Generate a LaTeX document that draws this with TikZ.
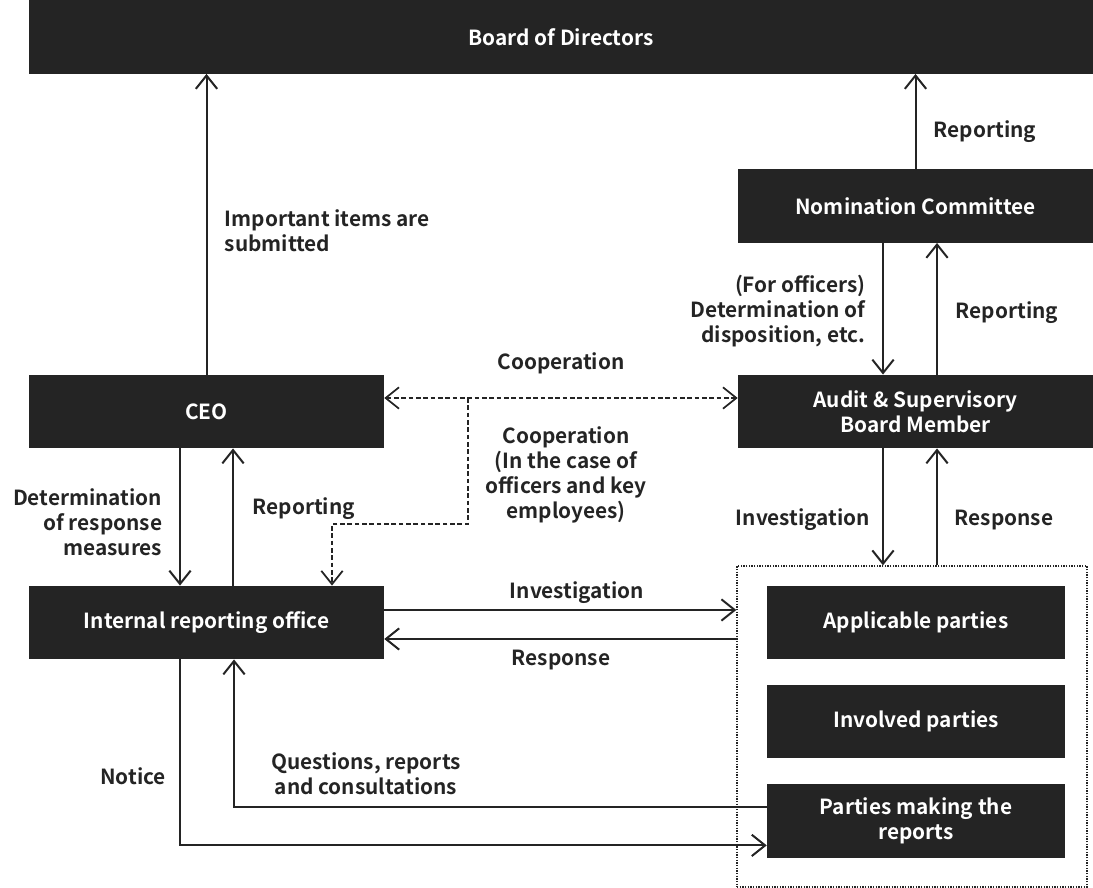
\documentclass[tikz,border=0pt]{standalone}
\usepackage{fontspec}
\newfontfamily\diagfont{Noto Sans CJK JP Bold}
\usepackage{tikz}
\usetikzlibrary{arrows.meta}
\usetikzlibrary{calc}
\usetikzlibrary{positioning}
\definecolor{boxgray}{HTML}{242424}

\begin{document}
\begin{tikzpicture}[
            x=0.75pt, y=-0.75pt,
            node distance=19pt,
            >={Straight Barb[length=10pt, width=16pt]},
            every node/.style = {font=\diagfont\fontsize{15.6}{18.75}\selectfont, text=boxgray},
            darkbox/.style = {fill=boxgray, text=white, align=center, inner sep=0, minimum width=266.25pt, minimum height=55pt},
            partybox/.style = {darkbox, minimum width=223.5pt},
            flow/.style = {draw=boxgray, line width=1.5pt, ->},
            coop/.style = {draw=boxgray, line width=1.3pt, dash pattern=on 3.5pt off 2pt},
            note/.style = {align=center, yshift=-1.5pt}
          ]
          \useasboundingbox (0,0) rectangle (1093,888);

          \node[darkbox, minimum width=798pt] (board) at (561,37) {Board of Directors};
          \node[darkbox] (nom) at (915.5,206) {Nomination Committee};
          \node[darkbox] (audit) at (915.5,411.5) {Audit \& Supervisory\\Board Member};
          \node[darkbox] (ceo) at (206.5,411.5) {CEO};
          \node[darkbox] (office) at (206.5,622.5) {Internal reporting office};

          \node[draw=boxgray, line width=1pt, dash pattern=on 1pt off 1pt, minimum width=262.5pt, minimum height=240.75pt] (group) at (912,726.5) {};
          \node[partybox] (applicable) at (916,622.5) {Applicable parties};
          \node[below=of applicable, partybox] (involved) {Involved parties};
          \node[below=of involved, partybox] (parties) {Parties making the\\reports};

          \node[note, anchor=west, align=left] (important) at (220,228.5) {Important items are\\submitted};
          \node[note, anchor=west] (rep_board) at (929,130) {Reporting};
          \node[note, anchor=east, align=right] (dispose) at (870,309) {(For officers)\\Determination of\\disposition, etc.};
          \node[note, anchor=west] (rep_nom) at (951,311) {Reporting};
          \node[note] (coop_top) at (561,361) {Cooperation};
          \node[note] (coop_key) at (566,472.5) {Cooperation\\(In the case of\\officers and key\\employees)};
          \node[note, anchor=east, align=right] (measures) at (167,520) {Determination\\of response\\measures};
          \node[note, anchor=west] (rep_ceo) at (248,507) {Reporting};
          \node[note] (inv_audit) at (803,518) {Investigation};
          \node[note] (resp_audit) at (1004,518) {Response};
          \node[note] (inv_office) at (577,591) {Investigation};
          \node[note] (resp_office) at (561,658) {Response};
          \node[note] (questions) at (366,771.5) {Questions, reports\\and consultations};
          \node[note] (notice) at (133,774) {Notice};

          \draw[flow] (ceo.north) -- (ceo.north |- board.south);
          \draw[flow] (nom.north) -- (nom.north |- board.south);
          \draw[flow] ($(nom.south)+(-32.5,0)$) -- ($(audit.north)+(-32.5,0)$);
          \draw[flow] ($(audit.north)+(21.5,0)$) -- ($(nom.south)+(21.5,0)$);

          \coordinate (split) at (468,398);
          \draw[coop, <->] ($(ceo.east)+(0,-13.5)$) -- ($(audit.west)+(0,-13.5)$);
          \draw[coop, ->] (split) -- ++(0,126) -| ($(office.north)+(125.5,0)$);

          \draw[flow] ($(ceo.south)+(-26.5,0)$) -- ($(office.north)+(-26.5,0)$);
          \draw[flow] ($(office.north)+(26.5,0)$) -- ($(ceo.south)+(26.5,0)$);

          \draw[flow] ($(audit.south)+(-32.5,0)$) -- ($(group.north)+(-29,0)$);
          \draw[flow] ($(group.north)+(25,0)$) -- ($(audit.south)+(21.5,0)$);

          \draw[flow] ($(office.east)+(0,-12.5)$) -- ($(office.east -| group.west)+(0,-12.5)$);
          \draw[flow] ($(office.east -| group.west)+(0,16.5)$) -- ($(office.east)+(0,16.5)$);

          \draw[flow] ($(parties.west)+(0,-13.5)$) -| ($(office.south)+(27.5,0)$);
          \draw[flow] ($(office.south)+(-26.5,0)$) |- ($(parties.west)+(0,24.5)$);
        \end{tikzpicture}
\end{document}
